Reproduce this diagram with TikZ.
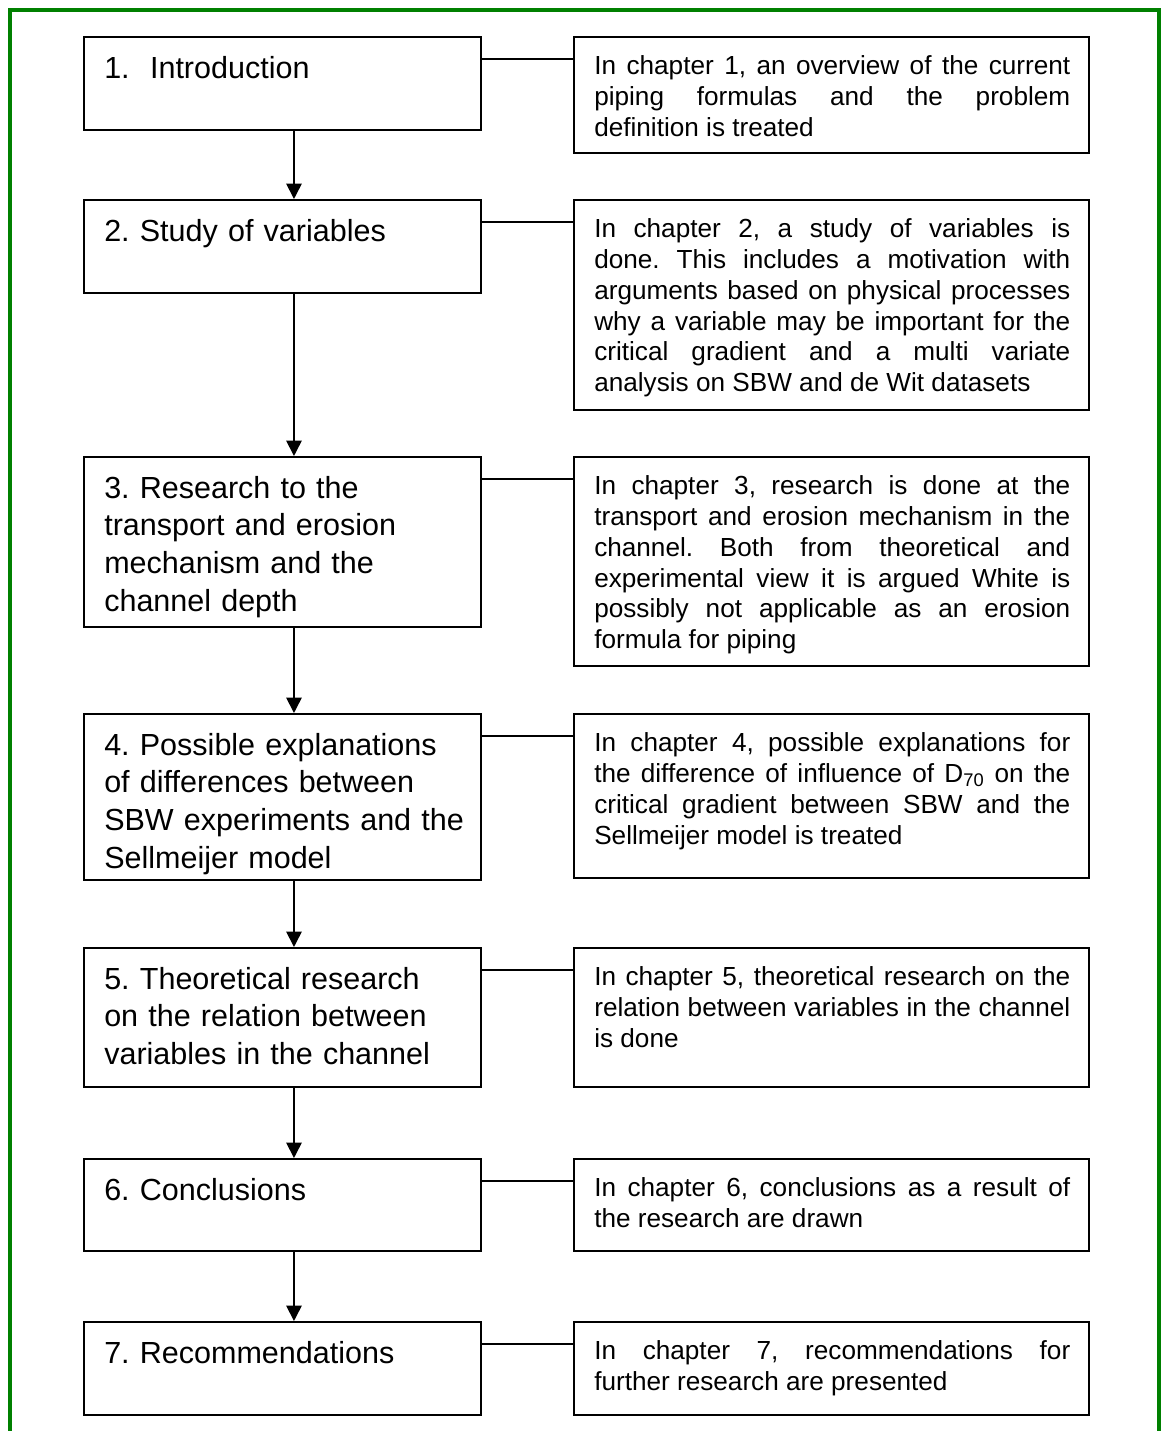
\documentclass[tikz,border=0pt]{standalone}
\usepackage{fontspec}
\setmainfont{Liberation Sans}
\usetikzlibrary{arrows.meta}
\definecolor{framegreen}{RGB}{0,128,0}
\newcommand{\pxu}{0.025cm}
\frenchspacing

\begin{document}
\begin{tikzpicture}[
  x=0.025cm, y=-0.025cm,
  chbox/.style={draw, line width=1.4pt, anchor=north west, minimum width=397*\pxu, inner sep=0pt},
  descbox/.style={draw, line width=1.4pt, anchor=north west, minimum width=515*\pxu, inner sep=0pt},
  chtext/.style={anchor=north west, inner sep=0pt, text width=372*\pxu, align=left, font=\fontsize{21.7}{26.7}\selectfont},
  desctext/.style={anchor=north west, inner sep=0pt, text width=476*\pxu, align=justify, font=\fontsize{18.6}{22}\selectfont},
  link/.style={line width=1.1pt},
  flow/.style={line width=1.2pt, -{Triangle[width=11pt,length=11pt]}}
]
\useasboundingbox (0,0) rectangle (1166,1431);
\draw[framegreen, line width=2.9pt] (10,1431) -- (10,10) -- (1159,10) -- (1159,1431);

\node[chbox, minimum height=93*\pxu] (l1) at (83,36) {};
\node[chbox, minimum height=93*\pxu] (l2) at (83,199) {};
\node[chbox, minimum height=170*\pxu] (l3) at (83,456) {};
\node[chbox, minimum height=166*\pxu] (l4) at (83,713) {};
\node[chbox, minimum height=139*\pxu] (l5) at (83,947) {};
\node[chbox, minimum height=92*\pxu] (l6) at (83,1158) {};
\node[chbox, minimum height=93*\pxu] (l7) at (83,1321) {};

\node[descbox, minimum height=116*\pxu] (r1) at (573,36) {};
\node[descbox, minimum height=210*\pxu] (r2) at (573,199) {};
\node[descbox, minimum height=209*\pxu] (r3) at (573,456) {};
\node[descbox, minimum height=164*\pxu] (r4) at (573,713) {};
\node[descbox, minimum height=139*\pxu] (r5) at (573,947) {};
\node[descbox, minimum height=92*\pxu] (r6) at (573,1158) {};
\node[descbox, minimum height=93*\pxu] (r7) at (573,1321) {};

\node[chtext] (l1t) at ([shift={(21,20)}]l1.north west) {1.\ \ Introduction};
\node[chtext] (l2t) at ([shift={(21,20)}]l2.north west) {2. Study of variables};
\node[chtext] (l3t) at ([shift={(21,20)}]l3.north west) {3. Research to the\\transport and erosion\\mechanism and the\\channel depth};
\node[chtext] (l4t) at ([shift={(21,20)}]l4.north west) {4. Possible explanations\\of differences between\\SBW experiments and the\\Sellmeijer model};
\node[chtext] (l5t) at ([shift={(21,20)}]l5.north west) {5. Theoretical research\\on the relation between\\variables in the channel};
\node[chtext] (l6t) at ([shift={(21,20)}]l6.north west) {6. Conclusions};
\node[chtext] (l7t) at ([shift={(21,20)}]l7.north west) {7. Recommendations};

\node[desctext] (r1t) at ([shift={(21,19)}]r1.north west) {In chapter 1, an overview of the current\linebreak piping formulas and the problem\linebreak definition is treated};
\node[desctext] (r2t) at ([shift={(21,19)}]r2.north west) {In chapter 2, a study of variables is\linebreak done. This includes a motivation with\linebreak arguments based on physical processes\linebreak why a variable may be important for the\linebreak critical gradient and a multi variate\linebreak analysis on SBW and de Wit datasets};
\node[desctext] (r3t) at ([shift={(21,19)}]r3.north west) {In chapter 3, research is done at the\linebreak transport and erosion mechanism in the\linebreak channel. Both from theoretical and\linebreak experimental view it is argued White is\linebreak possibly not applicable as an erosion\linebreak formula for piping};
\node[desctext] (r4t) at ([shift={(21,19)}]r4.north west) {In chapter 4, possible explanations for\linebreak the difference of influence of D\textsubscript{70} on the\linebreak critical gradient between SBW and the\linebreak Sellmeijer model is treated};
\node[desctext] (r5t) at ([shift={(21,19)}]r5.north west) {In chapter 5, theoretical research on the\linebreak relation between variables in the channel\linebreak is done};
\node[desctext] (r6t) at ([shift={(21,19)}]r6.north west) {In chapter 6, conclusions as a result of\linebreak the research are drawn};
\node[desctext] (r7t) at ([shift={(21,19)}]r7.north west) {In chapter 7, recommendations for\linebreak further research are presented};

\foreach \i in {1,...,7}
  \draw[link] ([yshift=-23*\pxu]l\i.north east) -- ([yshift=-23*\pxu]r\i.north west);
\foreach \i/\j in {1/2,2/3,3/4,4/5,5/6,6/7}
  \draw[flow] ([xshift=11.5*\pxu]l\i.south) -- ([xshift=11.5*\pxu]l\j.north);

\end{tikzpicture}
\end{document}
